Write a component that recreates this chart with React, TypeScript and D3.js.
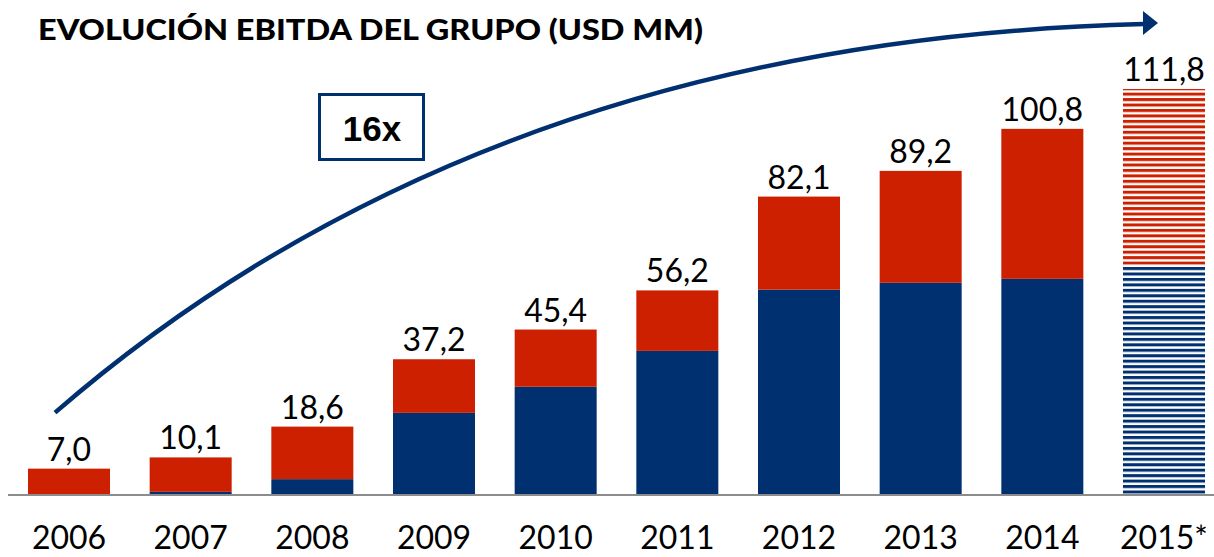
import React, { useEffect, useRef } from 'react';
import * as d3 from 'd3';

// EBITDA del grupo, USD MM
const years = ['2006', '2007', '2008', '2009', '2010', '2011', '2012', '2013', '2014', '2015*'];
const totals = [7.0, 10.1, 18.6, 37.2, 45.4, 56.2, 82.1, 89.2, 100.8, 111.8];
// lower (blue) part of each bar
const bluePart = [0, 0.6, 4.1, 22.4, 29.6, 39.5, 56.4, 58.3, 59.4, 63.3];
const labels = ['7,0', '10,1', '18,6', '37,2', '45,4', '56,2', '82,1', '89,2', '100,8', '111,8'];

const RED = '#cd2000';
const NAVY = '#00306f';

export default function App() {
  const ref = useRef<SVGSVGElement>(null);

  useEffect(() => {
    if (!ref.current) return;
    const width = 1214;
    const height = 557;
    const baseY = 494;

    const svg = d3.select(ref.current);
    svg.selectAll('*').remove();

    const x = d3.scaleBand<string>().domain(years).range([28, 1205]).paddingInner(0.326).paddingOuter(0);
    const y = d3.scaleLinear().domain([0, 111.8]).range([baseY, 89]);

    // striped patterns for the estimate year
    const defs = svg.append('defs');
    const stripe = (id: string, color: string) => {
      const p = defs.append('pattern')
        .attr('id', id)
        .attr('patternUnits', 'userSpaceOnUse')
        .attr('width', 10)
        .attr('height', 5.45);
      p.append('rect').attr('width', 10).attr('height', 5.45).attr('fill', '#fff');
      p.append('rect').attr('width', 10).attr('height', 3).attr('fill', color);
    };
    stripe('redStripe', RED);
    stripe('blueStripe', NAVY);

    // title
    svg.append('text')
      .attr('x', 38)
      .attr('y', 40)
      .attr('font-family', 'Lato, sans-serif')
      .attr('font-weight', 900)
      .attr('font-size', 29)
      .attr('textLength', 665)
      .attr('lengthAdjust', 'spacingAndGlyphs')
      .text('EVOLUCIÓN EBITDA DEL GRUPO (USD MM)');

    const data = years.map((yr, i) => ({ yr, total: totals[i], blue: bluePart[i], label: labels[i], est: i === years.length - 1 }));

    const bars = svg.append('g');
    // blue lower part
    bars.selectAll('rect.blue')
      .data(data.filter(d => d.blue > 0))
      .enter()
      .append('rect')
      .attr('class', 'blue')
      .attr('x', d => x(d.yr)!)
      .attr('width', x.bandwidth())
      .attr('y', d => y(d.blue))
      .attr('height', d => y(0) - y(d.blue))
      .attr('fill', d => d.est ? 'url(#blueStripe)' : NAVY);
    // red upper part
    bars.selectAll('rect.red')
      .data(data)
      .enter()
      .append('rect')
      .attr('class', 'red')
      .attr('x', d => x(d.yr)!)
      .attr('width', x.bandwidth())
      .attr('y', d => y(d.total))
      .attr('height', d => y(d.blue) - y(d.total))
      .attr('fill', d => d.est ? 'url(#redStripe)' : RED);

    // baseline
    svg.append('line')
      .attr('x1', 8).attr('x2', width)
      .attr('y1', baseY + 1).attr('y2', baseY + 1)
      .attr('stroke', '#8c8c8c')
      .attr('stroke-width', 2);

    // value labels
    svg.append('g')
      .selectAll('text')
      .data(data)
      .enter()
      .append('text')
      .attr('x', d => x(d.yr)! + x.bandwidth() / 2)
      .attr('y', d => y(d.total) - 8)
      .attr('text-anchor', 'middle')
      .attr('font-family', 'Lato, sans-serif')
      .attr('font-size', 32)
      .text(d => d.label);

    // year labels
    svg.append('g')
      .selectAll('text')
      .data(data)
      .enter()
      .append('text')
      .attr('x', d => x(d.yr)! + x.bandwidth() / 2)
      .attr('y', 549)
      .attr('text-anchor', 'middle')
      .attr('font-family', 'Lato, sans-serif')
      .attr('font-size', 32)
      .text(d => d.yr);

    // growth arrow
    const start: [number, number] = [x('2006')! + 27, y(totals[0]) - 56];
    const end: [number, number] = [x('2015*')! + 21, 24];
    const path = d3.path();
    path.moveTo(start[0], start[1]);
    path.quadraticCurveTo(485, 40, end[0], end[1]);
    svg.append('path')
      .attr('d', path.toString())
      .attr('fill', 'none')
      .attr('stroke', NAVY)
      .attr('stroke-width', 4.5);
    svg.append('path')
      .attr('d', d3.line()([[end[0] - 1, 11], [end[0] + 14, 23], [end[0] - 1, 35]]))
      .attr('fill', NAVY);

    // 16x box
    svg.append('rect')
      .attr('x', 319.5).attr('y', 94.5)
      .attr('width', 104).attr('height', 65)
      .attr('fill', '#fff')
      .attr('stroke', NAVY)
      .attr('stroke-width', 3);
    svg.append('text')
      .attr('x', 372)
      .attr('y', 141)
      .attr('text-anchor', 'middle')
      .attr('font-family', '"Liberation Sans", Arial, sans-serif')
      .attr('font-weight', 'bold')
      .attr('font-size', 35)
      .text('16x');

    svg.attr('width', width).attr('height', height);
  }, []);

  return (
    <svg
      ref={ref}
      width={1214}
      height={557}
      style={{ position: 'absolute', left: 0, top: 0, background: '#fff' }}
    />
  );
}
